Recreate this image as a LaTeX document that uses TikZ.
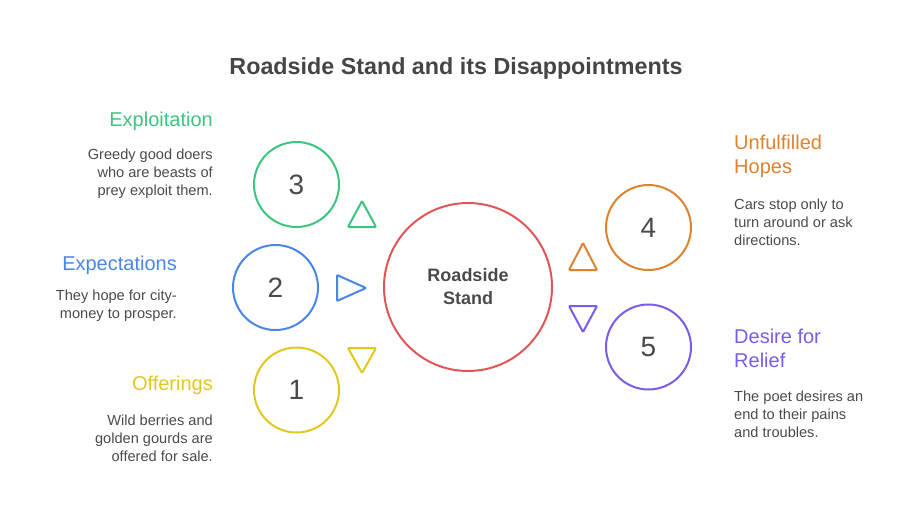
\documentclass[tikz,border=0pt]{standalone}
\usepackage{fontspec}
\setmainfont{Liberation Sans}
\definecolor{cgreen}{HTML}{3DC47E}
\definecolor{cblue}{HTML}{4A86E8}
\definecolor{cyellow}{HTML}{E2C81C}
\definecolor{corange}{HTML}{E0812E}
\definecolor{cpurple}{HTML}{7A5CE8}
\definecolor{cred}{HTML}{E05555}
\definecolor{ctext}{HTML}{4A4A4A}
\definecolor{ctitle}{HTML}{454545}
\begin{document}
\begin{tikzpicture}[x=1pt,y=-1pt,
  ring/.style={circle,draw,line width=2pt,inner sep=0pt,minimum size=#1,
    text=ctext,font=\fontsize{28}{30}\selectfont},
  tri/.style={draw,line width=2pt,line join=round,rounded corners=0.8pt},
  headR/.style={anchor=east,align=right,font=\fontsize{20}{24}\selectfont,inner sep=0pt},
  headL/.style={anchor=west,align=left,font=\fontsize{20}{24}\selectfont,inner sep=0pt},
  bodyR/.style={anchor=east,align=right,text=ctext,font=\fontsize{14.6}{18}\selectfont,inner sep=0pt},
  bodyL/.style={anchor=west,align=left,text=ctext,font=\fontsize{14.6}{18}\selectfont,inner sep=0pt}]
\useasboundingbox (0,0) rectangle (912,517);
\node[font=\bfseries\fontsize{23.3}{28}\selectfont,text=ctitle] (title) at (456,68) {Roadside Stand and its Disappointments};

\node[ring=168pt,draw=cred,font=\bfseries\fontsize{18}{23}\selectfont,align=center] (center) at (468,287) {Roadside\\Stand};

\node[ring=85pt,draw=cgreen] (n3) at (296.5,184.5) {3};
\node[ring=85pt,draw=cblue] (n2) at (275.5,287.5) {2};
\node[ring=85pt,draw=cyellow] (n1) at (296.5,390) {1};
\node[ring=85pt,draw=corange] (n4) at (648.5,227.5) {4};
\node[ring=85pt,draw=cpurple] (n5) at (648.5,347) {5};

\draw[tri,draw=cgreen] (362,201) -- (376,227) -- (348,227) -- cycle;
\draw[tri,draw=cblue] (366,288) -- (337,301) -- (337,275) -- cycle;
\draw[tri,draw=cyellow] (362,373) -- (348,348) -- (376,348) -- cycle;
\draw[tri,draw=corange] (583,243) -- (597,270) -- (569,270) -- cycle;
\draw[tri,draw=cpurple] (583,332) -- (569,306) -- (597,306) -- cycle;

\node[headR,text=cgreen] (h3) at (213,121) {Exploitation};
\node[bodyR] (b3) at (213,174) {Greedy good doers\\who are beasts of\\prey exploit them.};
\node[headR,text=cblue] (h2) at (177,265) {Expectations};
\node[bodyR] (b2) at (177,306) {They hope for city-\\money to prosper.};
\node[headR,text=cyellow] (h1) at (213,385) {Offerings};
\node[bodyR] (b1) at (213,438) {Wild berries and\\golden gourds are\\offered for sale.};
\node[headL,text=corange] (h4) at (734,156) {Unfulfilled\\Hopes};
\node[bodyL] (b4) at (734,222) {Cars stop only to\\turn around or ask\\directions.};
\node[headL,text=cpurple] (h5) at (734,348) {Desire for\\Relief};
\node[bodyL] (b5) at (734,414) {The poet desires an\\end to their pains\\and troubles.};
\end{tikzpicture}
\end{document}
